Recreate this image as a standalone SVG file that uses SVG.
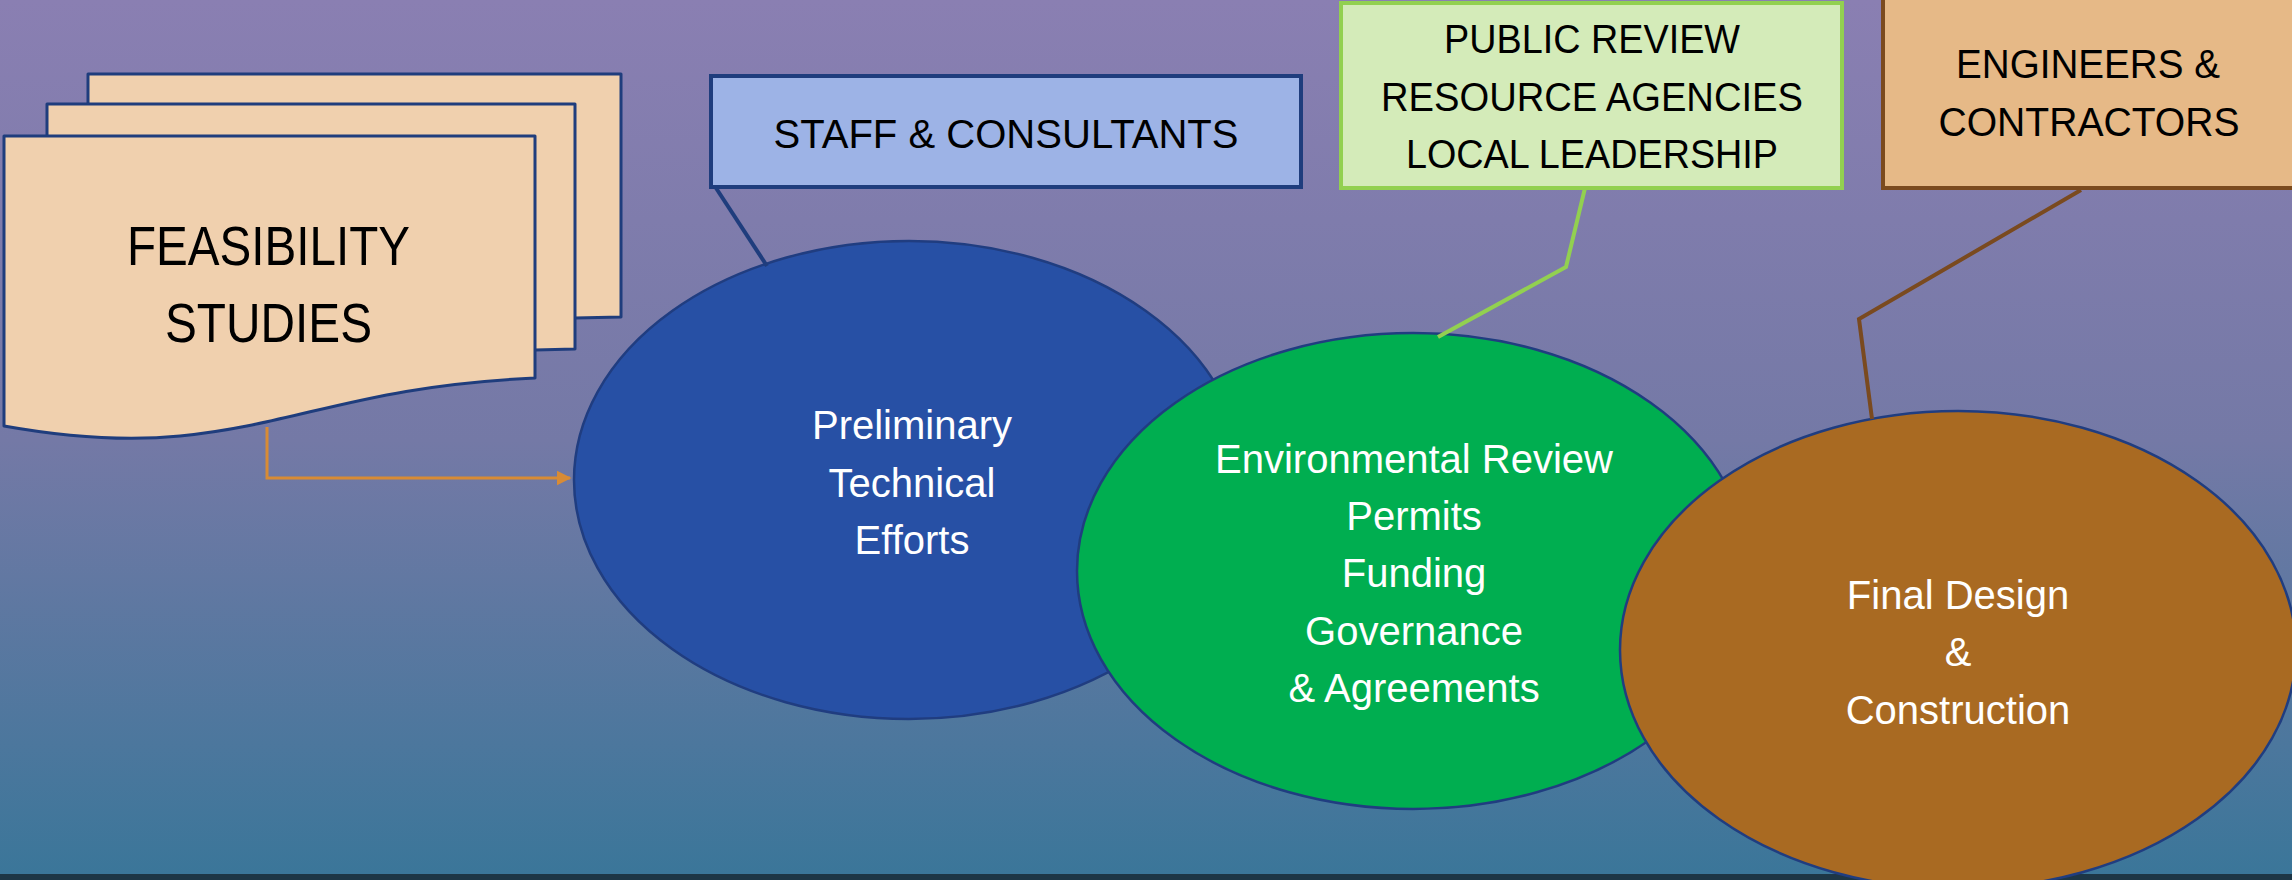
<svg xmlns="http://www.w3.org/2000/svg" width="2292" height="880" viewBox="0 0 2292 880">
<defs>
<linearGradient id="bg" x1="0" y1="0" x2="0" y2="1">
<stop offset="0" stop-color="#8a7fb2"/>
<stop offset="0.5" stop-color="#7479a6"/>
<stop offset="1" stop-color="#3a7699"/>
</linearGradient>
<marker id="arr" viewBox="0 0 10 10" refX="9" refY="5" markerWidth="5" markerHeight="5" orient="auto" markerUnits="strokeWidth">
<path d="M0,0 L10,5 L0,10 Z" fill="#d88b35"/>
</marker>
<style>
.page{fill:#f0d0ae;stroke:#1f3d7d;stroke-width:3;stroke-linejoin:round}
.ell{stroke:#203d80;stroke-width:2.5}
.cap{font-family:"Liberation Sans",Arial,sans-serif;fill:#000;text-anchor:middle}
.wt{font-family:"Liberation Sans",Arial,sans-serif;fill:#fff;text-anchor:middle;font-size:40px}
.call{fill:none;stroke-width:4;stroke-linejoin:miter}
</style>
</defs>
<rect x="0" y="0" width="2292" height="880" fill="url(#bg)"/>
<rect x="0" y="874" width="2292" height="6" fill="#1d3646"/>

<g id="feasibility">
<path class="page" d="M88,74 H621 V317 L575,318 L88,330 Z"/>
<path class="page" d="M47,104 H575 V349 L535,350 L47,362 Z"/>
<path class="page" d="M4,136 H535 V378 C360,386 300,424 180,436 C120,442 60,436 4,426 Z"/>
<text class="cap" x="268.5" y="265" font-size="56" textLength="283" lengthAdjust="spacingAndGlyphs">FEASIBILITY</text>
<text class="cap" x="268.5" y="342" font-size="56" textLength="207" lengthAdjust="spacingAndGlyphs">STUDIES</text>
</g>

<g id="connectors">
<path d="M267,427 V478 H570" fill="none" stroke="#d88b35" stroke-width="3" marker-end="url(#arr)"/>
</g>

<g id="preliminary">
<ellipse class="ell" cx="909" cy="480" rx="335" ry="239" fill="#2750a5"/>
<text class="wt" x="912" y="439">Preliminary</text>
<text class="wt" x="912" y="497">Technical</text>
<text class="wt" x="912" y="554">Efforts</text>
</g>

<g id="environmental">
<ellipse class="ell" cx="1413" cy="571" rx="336" ry="238" fill="#00ae50"/>
<text class="wt" x="1414" y="473">Environmental Review</text>
<text class="wt" x="1414" y="530">Permits</text>
<text class="wt" x="1414" y="587">Funding</text>
<text class="wt" x="1414" y="645">Governance</text>
<text class="wt" x="1414" y="702">&amp; Agreements</text>
</g>

<g id="final">
<ellipse class="ell" cx="1958" cy="650" rx="338" ry="239" fill="#a96a22"/>
<text class="wt" x="1958" y="609">Final Design</text>
<text class="wt" x="1958" y="666">&amp;</text>
<text class="wt" x="1958" y="724">Construction</text>
</g>

<g id="staff">
<path class="call" d="M716,188 L767,266" stroke="#1f3d7d"/>
<rect x="711" y="76" width="590" height="111" fill="#9db3e6" stroke="#1f3d7d" stroke-width="4"/>
<text class="cap" x="1006" y="148" font-size="40" textLength="465" lengthAdjust="spacingAndGlyphs">STAFF &amp; CONSULTANTS</text>
</g>

<g id="public">
<path class="call" d="M1585,188 L1566,267 L1438,337" stroke="#92d050"/>
<rect x="1341" y="3" width="501" height="185" fill="#d4ebb9" stroke="#92d050" stroke-width="4"/>
<text class="cap" x="1592" y="53" font-size="40" textLength="296" lengthAdjust="spacingAndGlyphs">PUBLIC REVIEW</text>
<text class="cap" x="1592" y="111" font-size="40" textLength="422" lengthAdjust="spacingAndGlyphs">RESOURCE AGENCIES</text>
<text class="cap" x="1592" y="168" font-size="40" textLength="372" lengthAdjust="spacingAndGlyphs">LOCAL LEADERSHIP</text>
</g>

<g id="engineers">
<path class="call" d="M2081,190 L1859,319 L1872,419" stroke="#7a4a1f"/>
<rect x="1883" y="-10" width="420" height="198" fill="#e6b987" stroke="#7b4a1e" stroke-width="4"/>
<text class="cap" x="2088" y="78" font-size="40" textLength="264" lengthAdjust="spacingAndGlyphs">ENGINEERS &amp;</text>
<text class="cap" x="2089" y="136" font-size="40" textLength="301" lengthAdjust="spacingAndGlyphs">CONTRACTORS</text>
</g>
</svg>
